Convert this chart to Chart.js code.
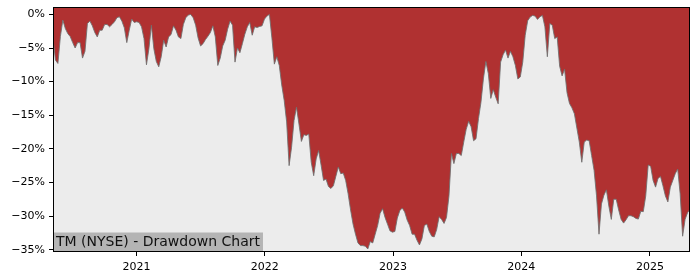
<!DOCTYPE html>
<html>
<head>
<meta charset="utf-8">
<script src="https://cdn.jsdelivr.net/npm/chart.js@4/dist/chart.umd.min.js"></script>
<style>
  html, body { margin: 0; padding: 0; background: #fff; }
  #wrap { width: 700px; height: 280px; position: relative; }
</style>
</head>
<body>
<div id="wrap"><canvas id="ddChart"></canvas></div>
<script>
// weekly drawdown readings (percent), first week starting 2020-05-08
const startDate = '2020-05-08';
const drawdown = [
  -3.6, -6.8, -7.3, -3.3, -0.85, -2.1, -2.85, -3.3, -4.2, -5.0,
  -4.2, -4.2, -6.5, -5.5, -1.35, -1.0, -1.7, -2.7, -3.35, -2.35,
  -2.35, -1.5, -1.5, -1.85, -1.5, -1.1, -0.5, -0.35, -1.0, -2.0,
  -4.2, -2.35, -0.7, -1.2, -1.1, -1.2, -1.85, -3.6, -7.5, -5.1,
  -1.6, -5.1, -7.0, -7.8, -6.3, -3.85, -4.85, -3.35, -3.0, -1.7,
  -2.35, -3.35, -3.6, -1.5, -0.5, -0.1, 0, -0.5, -1.6, -3.5,
  -4.7, -4.35, -3.75, -3.25, -2.7, -1.7, -3.35, -7.6, -6.5, -4.7,
  -3.85, -2.2, -1.0, -1.6, -7.1, -5.0, -5.7, -4.35, -2.95, -1.85,
  -1.2, -3.1, -1.85, -1.95, -1.8, -1.7, -0.7, -0.25, 0, -3.5,
  -7.4, -6.3, -7.6, -10.5, -12.8, -16.0, -22.5, -19.75, -15.8, -13.8,
  -16.3, -18.9, -17.9, -18.0, -17.8, -22.0, -24.0, -21.5, -20.25, -22.4,
  -24.7, -24.5, -25.6, -25.9, -25.5, -24.1, -22.7, -23.7, -23.6, -24.7,
  -26.7, -29.1, -31.2, -32.7, -34.0, -34.4, -34.4, -34.5, -34.9, -33.8,
  -34.0, -32.7, -31.4, -29.6, -28.9, -30.2, -31.2, -32.2, -32.4, -32.3,
  -30.3, -29.2, -28.8, -29.4, -30.6, -31.4, -32.7, -32.7, -33.6, -34.3,
  -33.4, -31.4, -31.2, -32.3, -33.0, -33.1, -32.0, -30.1, -30.5, -31.1,
  -30.2, -27.0, -20.7, -22.2, -20.7, -20.7, -21.0, -19.0, -17.1, -15.9,
  -16.7, -18.8, -18.5, -15.5, -13.1, -9.6, -7.0, -8.8, -12.5, -11.2,
  -12.3, -13.3, -7.1, -6.0, -5.3, -6.5, -5.5, -6.3, -7.6, -9.6,
  -9.3, -7.1, -3.1, -0.95, -0.4, -0.15, -0.25, -0.75, -0.35, -0.15,
  -1.85, -6.3, -1.35, -1.6, -3.6, -3.35, -7.7, -9.15, -8.15, -11.65,
  -13.25, -13.9, -14.8, -16.9, -19.0, -22.0, -19.0, -18.7, -18.8, -21.0,
  -23.2, -27.0, -32.7, -28.2, -26.9, -26.1, -28.5, -30.5, -27.5, -27.5,
  -29.1, -30.5, -31.05, -30.55, -29.95, -29.95, -30.1, -30.35, -30.45, -29.3,
  -29.35, -27.0, -22.4, -22.6, -24.7, -25.7, -24.4, -24.1, -25.5, -27.0,
  -27.9, -25.7, -24.7, -23.7, -23.0, -26.7, -33.0, -30.5, -29.5, -29.0
];
const yearTicks = [2021, 2022, 2023, 2024, 2025];
const pctTicks = [0, -5, -10, -15, -20, -25, -30, -35];
const titleText = 'TM (NYSE) - Drawdown Chart';

const DAY = 86400000;
const t0 = Date.parse(startDate + 'T00:00:00Z');
const points = drawdown.map((v, i) => ({ x: t0 + i * 7 * DAY, y: v }));

const fontFam = "'DejaVu Sans', sans-serif";

const frame = {
  id: 'frame',
  beforeDatasetsDraw(chart) {
    const { ctx, chartArea: a } = chart;
    ctx.save();
    ctx.fillStyle = '#ececec';
    ctx.fillRect(a.left, a.top, a.right - a.left, a.bottom - a.top);
    ctx.restore();
  },
  afterDatasetsDraw(chart) {
    const { ctx, chartArea: a } = chart;
    ctx.save();
    ctx.font = '14px ' + fontFam;
    const w = ctx.measureText(titleText).width;
    ctx.fillStyle = '#b4b4b4';
    ctx.fillRect(a.left, a.bottom - 19.5, w + 6, 19.5);
    ctx.fillStyle = '#111';
    ctx.textBaseline = 'middle';
    ctx.fillText(titleText, a.left + 3, a.bottom - 9.5);
    ctx.strokeStyle = '#000';
    ctx.lineWidth = 1;
    ctx.strokeRect(a.left + 0.5, a.top + 0.5, a.right - a.left - 1, a.bottom - a.top - 1);
    ctx.restore();
  }
};

new Chart('ddChart', {
  type: 'line',
  data: {
    datasets: [{
      data: points,
      fill: 'end',
      backgroundColor: '#b03131',
      borderColor: 'rgba(110,110,110,0.85)',
      borderWidth: 1,
      pointRadius: 0,
      tension: 0
    }]
  },
  options: {
    responsive: true,
    maintainAspectRatio: false,
    animation: false,
    layout: { padding: { top: 7, right: 10, left: 0, bottom: 0 } },
    plugins: { legend: { display: false }, tooltip: { enabled: false } },
    scales: {
      x: {
        type: 'linear',
        min: points[0].x,
        max: points[points.length - 1].x,
        afterBuildTicks: s => { s.ticks = yearTicks.map(y => ({ value: Date.UTC(y, 0, 1) })); },
        afterFit: s => { s.height = 28; s.paddingLeft = 0; s.paddingRight = 0; },
        grid: { drawOnChartArea: false, drawTicks: true, tickLength: 4, color: '#000' },
        border: { display: false },
        ticks: {
          color: '#000', padding: 5, maxRotation: 0,
          font: { family: fontFam, size: 11 },
          callback: v => String(new Date(v).getUTCFullYear())
        }
      },
      y: {
        min: -35.35,
        max: 1.1,
        afterBuildTicks: s => { s.ticks = pctTicks.map(v => ({ value: v })); },
        afterFit: s => { s.width = 53; s.paddingTop = 0; s.paddingBottom = 0; },
        grid: { drawOnChartArea: false, drawTicks: true, tickLength: 4, color: '#000' },
        border: { display: false },
        ticks: {
          color: '#000', padding: 4,
          font: { family: fontFam, size: 11 },
          callback: v => (v < 0 ? '\u2212' + Math.abs(v) : v) + '%'
        }
      }
    }
  },
  plugins: [frame]
});
</script>
</body>
</html>
